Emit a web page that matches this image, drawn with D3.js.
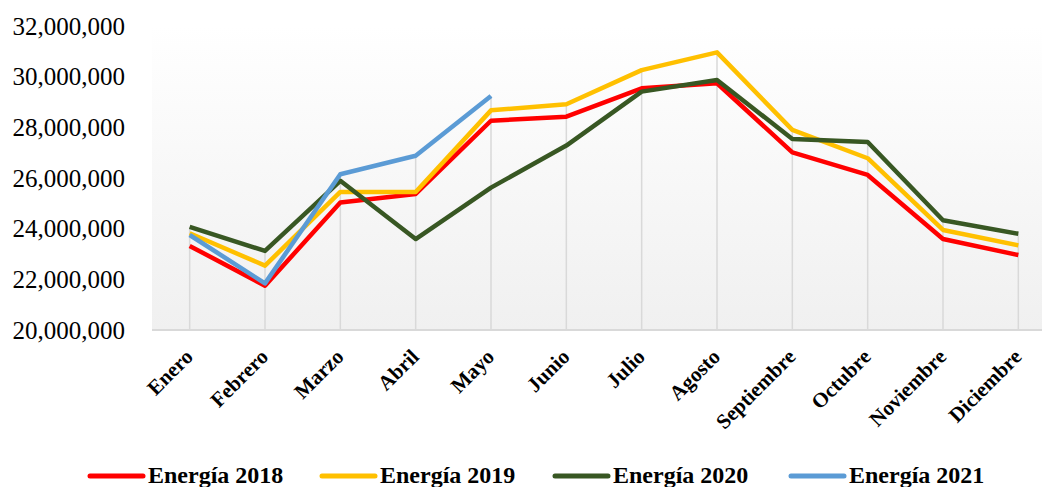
<!DOCTYPE html>
<html>
<head>
<meta charset="utf-8">
<script src="https://cdn.jsdelivr.net/npm/d3@7"></script>
<style>
  html, body { margin: 0; padding: 0; background: #fff; }
  svg { display: block; }
</style>
</head>
<body>
<svg id="chart" width="1042" height="487"></svg>
<script>
const months = ["Enero","Febrero","Marzo","Abril","Mayo","Junio","Julio","Agosto","Septiembre","Octubre","Noviembre","Diciembre"];
const yTicks = [20000000, 22000000, 24000000, 26000000, 28000000, 30000000, 32000000];
const energia2018 = [23320000, 21750000, 25030000, 25370000, 28260000, 28420000, 29540000, 29740000, 27010000, 26120000, 23590000, 22960000];
const energia2019 = [23820000, 22540000, 25450000, 25450000, 28670000, 28910000, 30260000, 30960000, 27900000, 26780000, 23950000, 23340000];
const energia2020 = [24070000, 23120000, 25890000, 23590000, 25620000, 27280000, 29410000, 29870000, 27540000, 27420000, 24330000, 23800000];
const energia2021 = [23750000, 21840000, 26150000, 26880000, 29240000];
const seriesNames = ["Energía 2018", "Energía 2019", "Energía 2020", "Energía 2021"];
const seriesColors = ["#ff0000", "#ffc000", "#385723", "#5b9bd5"];
const seriesValues = [energia2018, energia2019, energia2020, energia2021];

const svg = d3.select("#chart");
const plotLeft = 152, plotRight = 1056, plotTop = 26, plotBottom = 330;
const serif = "'Liberation Serif', 'Times New Roman', serif";

const x = d3.scalePoint().domain(months).range([plotLeft, plotRight]).padding(0.5);
const y = d3.scaleLinear().domain([20000000, 32000000]).range([plotBottom, plotTop]);

// background gradient
const defs = svg.append("defs");
const grad = defs.append("linearGradient").attr("id", "bg").attr("x1", 0).attr("y1", 0).attr("x2", 0).attr("y2", 1);
grad.append("stop").attr("offset", "0%").attr("stop-color", "#ffffff");
grad.append("stop").attr("offset", "100%").attr("stop-color", "#f0f0f0");
svg.append("rect").attr("x", plotLeft).attr("y", plotTop).attr("width", plotRight - plotLeft).attr("height", plotBottom - plotTop).attr("fill", "url(#bg)");

// drop lines from the highest value at each month down to the axis
const maxAt = months.map((m, i) => d3.max(seriesValues, s => s[i]));
svg.append("g").selectAll("line").data(months).join("line")
  .attr("x1", d => x(d)).attr("x2", d => x(d))
  .attr("y1", (d, i) => y(maxAt[i])).attr("y2", plotBottom)
  .attr("stroke", "#d9d9d9").attr("stroke-width", 1.5);

// bottom axis line
svg.append("line").attr("x1", plotLeft).attr("x2", plotRight).attr("y1", plotBottom).attr("y2", plotBottom)
  .attr("stroke", "#d9d9d9").attr("stroke-width", 2);

// y axis labels
const yAxis = d3.axisLeft(y).tickValues(yTicks).tickSize(0).tickPadding(0).tickFormat(d3.format(","));
const gy = svg.append("g").attr("transform", "translate(125,0)").call(yAxis);
gy.select(".domain").remove();
gy.selectAll("text").attr("font-family", serif).attr("font-size", "25px").attr("fill", "#000");

// x axis labels
const xAxis = d3.axisBottom(x).tickSize(0).tickPadding(0);
const gx = svg.append("g").attr("transform", `translate(0,${plotBottom})`).call(xAxis);
gx.select(".domain").remove();
gx.selectAll("text")
  .attr("font-family", serif)
  .attr("font-size", "21px").attr("font-weight", "bold").attr("fill", "#000")
  .attr("text-anchor", "end")
  .attr("dy", null).attr("y", 0)
  .attr("transform", "translate(4,28) rotate(-45)");

// lines
const line = d3.line().x((d, i) => x(months[i])).y(d => y(d));
svg.append("g").selectAll("path").data(seriesValues).join("path")
  .attr("d", d => line(d))
  .attr("fill", "none")
  .attr("stroke", (d, i) => seriesColors[i])
  .attr("stroke-width", 4.5)
  .attr("stroke-linejoin", "round");

// legend
const legendX = [90, 322, 555, 791];
const lg = svg.append("g").selectAll("g").data(seriesNames).join("g")
  .attr("transform", (d, i) => `translate(${legendX[i]},476)`);
lg.append("line").attr("x1", 0).attr("x2", 53).attr("y1", 0).attr("y2", 0)
  .attr("stroke", (d, i) => seriesColors[i]).attr("stroke-width", 5).attr("stroke-linecap", "round");
lg.append("text").attr("x", 58).attr("y", 7).text(d => d)
  .attr("font-family", serif)
  .attr("font-size", "24px").attr("font-weight", "bold").attr("fill", "#000");
</script>
</body>
</html>
